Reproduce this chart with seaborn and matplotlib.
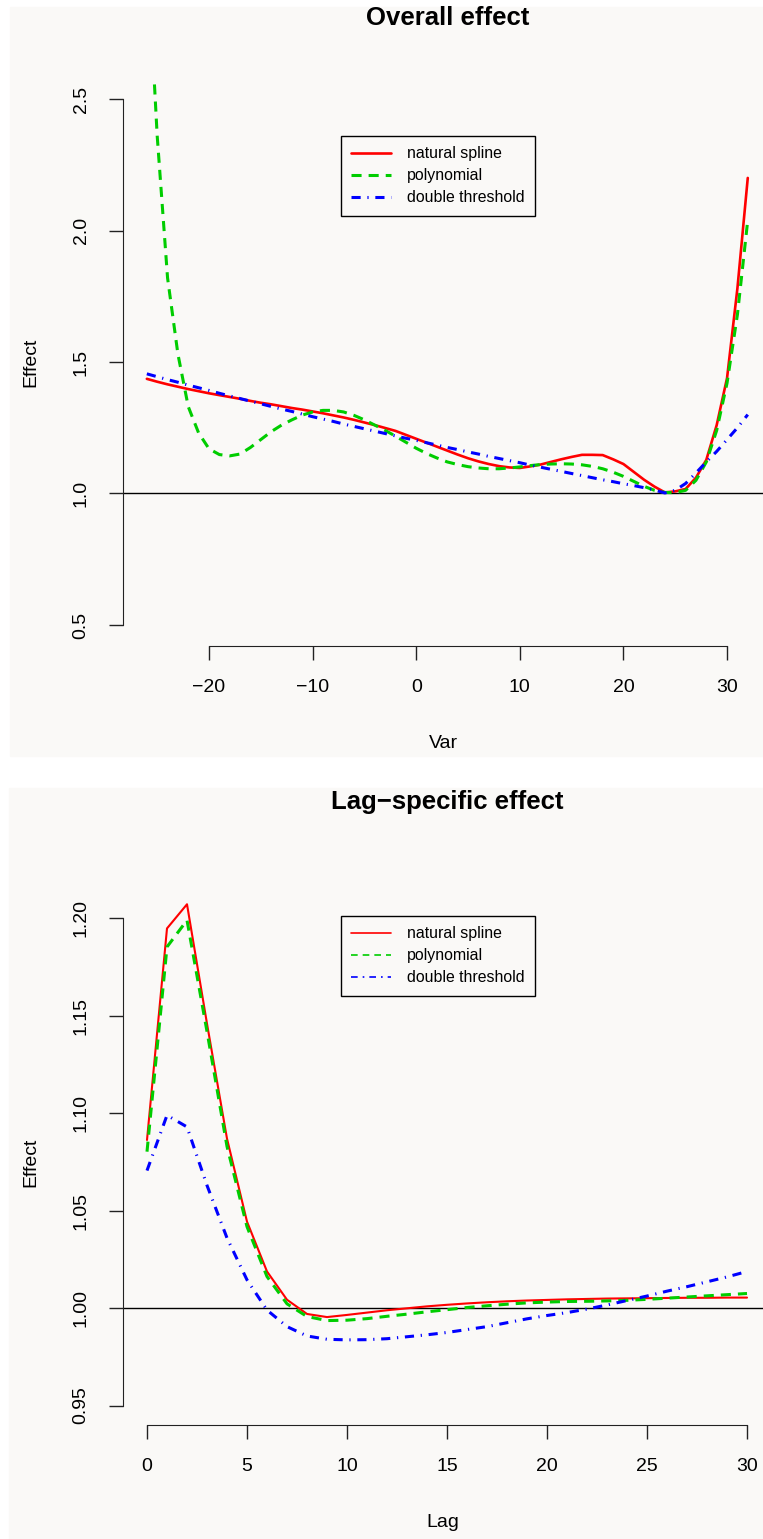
import numpy as np
import pandas as pd
import matplotlib
matplotlib.use("Agg")
import matplotlib.pyplot as plt
from matplotlib.lines import Line2D
from matplotlib.patches import Rectangle
import seaborn as sns

# === DATA: overall effect ===
var = list(range(-26, 33))
overall_ns = [1.436, 1.425, 1.415, 1.406, 1.397, 1.389, 1.381, 1.374, 1.367, 1.360,
              1.352, 1.345, 1.339, 1.332, 1.325, 1.319, 1.312, 1.305, 1.297, 1.289,
              1.280, 1.270, 1.260, 1.249, 1.238, 1.223, 1.208, 1.193, 1.178, 1.163,
              1.148, 1.134, 1.122, 1.112, 1.104, 1.099, 1.097, 1.103, 1.110, 1.120,
              1.130, 1.139, 1.147, 1.147, 1.146, 1.130, 1.112, 1.082, 1.052, 1.026,
              1.004, 1.008, 1.017, 1.060, 1.128, 1.260, 1.439, 1.780, 2.200]
overall_poly = [3.100, 2.360, 1.820, 1.530, 1.330, 1.230, 1.170, 1.148, 1.143, 1.150,
                1.175, 1.205, 1.235, 1.260, 1.280, 1.298, 1.310, 1.316, 1.316, 1.310,
                1.297, 1.280, 1.260, 1.240, 1.218, 1.195, 1.172, 1.152, 1.135, 1.120,
                1.110, 1.102, 1.097, 1.094, 1.094, 1.097, 1.101, 1.106, 1.110, 1.112,
                1.113, 1.112, 1.109, 1.103, 1.094, 1.081, 1.065, 1.046, 1.027, 1.012,
                1.004, 1.003, 1.012, 1.050, 1.120, 1.240, 1.420, 1.680, 2.040]
overall_thr = [1.455, 1.444, 1.433, 1.423, 1.412, 1.402, 1.392, 1.381, 1.371, 1.361,
               1.351, 1.341, 1.331, 1.321, 1.312, 1.302, 1.292, 1.283, 1.274, 1.264,
               1.255, 1.246, 1.237, 1.228, 1.219, 1.210, 1.202, 1.193, 1.184, 1.175,
               1.167, 1.158, 1.150, 1.141, 1.133, 1.125, 1.117, 1.108, 1.100, 1.092,
               1.084, 1.076, 1.068, 1.060, 1.052, 1.045, 1.037, 1.030, 1.022, 1.013,
               1.002, 1.012, 1.038, 1.078, 1.120, 1.160, 1.205, 1.250, 1.300]

# === DATA: lag-specific effect ===
lag = list(range(0, 31))
lag_ns = [1.0863, 1.1949, 1.2073, 1.1460, 1.0870, 1.0444, 1.0188, 1.0043, 0.9970, 0.9954,
          0.9965, 0.9977, 0.9989, 0.9999, 1.0009, 1.0017, 1.0024, 1.0030, 1.0035, 1.0039,
          1.0042, 1.0045, 1.0047, 1.0049, 1.0050, 1.0051, 1.0052, 1.0053, 1.0053, 1.0054,
          1.0054]
lag_poly = [1.0803, 1.1854, 1.1991, 1.1420, 1.0830, 1.0418, 1.0162, 1.0022, 0.9957, 0.9936,
            0.9938, 0.9946, 0.9958, 0.9969, 0.9981, 0.9992, 1.0003, 1.0012, 1.0020, 1.0027,
            1.0031, 1.0034, 1.0035, 1.0037, 1.0040, 1.0045, 1.0051, 1.0057, 1.0063, 1.0069,
            1.0075]
lag_thr = [1.0706, 1.0990, 1.0930, 1.0630, 1.0360, 1.0145, 0.9990, 0.9905, 0.9857, 0.9840,
           0.9837, 0.9838, 0.9843, 0.9853, 0.9863, 0.9875, 0.9890, 0.9905, 0.9925, 0.9945,
           0.9962, 0.9977, 0.9995, 1.0016, 1.0039, 1.0062, 1.0087, 1.0110, 1.0135, 1.0160,
           1.0188]

labels = ["natural spline", "polynomial", "double threshold"]
colors = ["#ff0000", "#00cd00", "#0000ff"]

sns.set_style("ticks")
plt.rcParams['font.family'] = ['Liberation Sans', 'DejaVu Sans']
plt.rcParams['axes.edgecolor'] = '#222222'
plt.rcParams['text.color'] = 'black'
plt.rcParams['axes.labelcolor'] = 'black'
plt.rcParams['xtick.color'] = 'black'
plt.rcParams['ytick.color'] = 'black'

W, H = 763, 1539
DPI = 100
fig = plt.figure(figsize=(W / DPI, H / DPI), dpi=DPI, facecolor='white')

BG = '#faf9f7'
# panel backgrounds (pixel coords converted to figure fraction)
fig.patches.append(Rectangle((10 / W, 1 - 756 / H), 753 / W, 749 / H,
                             transform=fig.transFigure, color=BG, zorder=-10))
fig.patches.append(Rectangle((9 / W, 0), 754 / W, 1 - 788 / H,
                             transform=fig.transFigure, color=BG, zorder=-10))

ax1 = fig.add_axes([123 / W, 1 - 646 / H, 1 - 123 / W, (646 - 78) / H])
ax2 = fig.add_axes([123 / W, 1 - 1425 / H, 1 - 123 / W, (1425 - 899) / H])

dash_g = (0, (3.3, 2.3))
dash_b = (0, (3.0, 2.2, 0.4, 2.2))

leg_kw = dict(fontsize=11.4, frameon=True, fancybox=False, edgecolor='black',
              facecolor=BG, framealpha=1, handlelength=2.5, handletextpad=1.0,
              borderpad=0.65, labelspacing=0.44, borderaxespad=0,
              bbox_transform=fig.transFigure, loc='upper left')

# --- top panel ---
sns.lineplot(x=var, y=overall_ns, ax=ax1, color=colors[0], lw=1.9, label=labels[0])
sns.lineplot(x=var, y=overall_poly, ax=ax1, color=colors[1], lw=2.2, linestyle=dash_g, label=labels[1])
sns.lineplot(x=var, y=overall_thr, ax=ax1, color=colors[2], lw=2.2, linestyle=dash_b, label=labels[2])
ax1.axhline(1, color='black', lw=1.0, zorder=1)
ax1.set_xlim(-28.3, 33.47)
ax1.set_ylim(0.42, 2.58)
ax1.set_xticks([-20, -10, 0, 10, 20, 30])
ax1.set_yticks([0.5, 1.0, 1.5, 2.0, 2.5])
ax1.spines['bottom'].set_bounds(-20, 30)
ax1.spines['left'].set_bounds(0.5, 2.5)
ax1.set_xlabel("Var", fontsize=14, labelpad=28)
ax1.set_ylabel("Effect", fontsize=14, labelpad=24)
fig.text(447.5 / W, 1 - 18 / H, "Overall effect", ha='center', va='center',
         fontsize=18.5, fontweight='bold')
leg1 = ax1.legend(bbox_to_anchor=(341 / W, 1 - 136 / H), **leg_kw)
leg1.get_frame().set_linewidth(1.0)

# --- bottom panel ---
sns.lineplot(x=lag, y=lag_ns, ax=ax2, color=colors[0], lw=1.5)
sns.lineplot(x=lag, y=lag_poly, ax=ax2, color=colors[1], lw=2.2, linestyle=dash_g)
sns.lineplot(x=lag, y=lag_thr, ax=ax2, color=colors[2], lw=2.2, linestyle=dash_b)
ax2.axhline(1, color='black', lw=1.0, zorder=1)
ax2.set_xlim(-1.2, 30.8)
ax2.set_ylim(0.94, 1.21)
ax2.set_xticks(range(0, 31, 5))
ax2.set_yticks([0.95, 1.00, 1.05, 1.10, 1.15, 1.20])
ax2.set_yticklabels(["0.95", "1.00", "1.05", "1.10", "1.15", "1.20"])
ax2.spines['bottom'].set_bounds(0, 30)
ax2.spines['left'].set_bounds(0.95, 1.20)
ax2.set_xlabel("Lag", fontsize=14, labelpad=28)
ax2.set_ylabel("Effect", fontsize=14, labelpad=24)
fig.text(447.5 / W, 1 - 802 / H, "Lag\u2212specific effect", ha='center', va='center',
         fontsize=18.5, fontweight='bold')
handles2 = [
    Line2D([], [], color=colors[0], lw=1.2),
    Line2D([], [], color=colors[1], lw=1.2, linestyle=(0, (4, 3))),
    Line2D([], [], color=colors[2], lw=1.2, linestyle=(0, (4, 3, 1, 3))),
]
leg2 = ax2.legend(handles2, labels, bbox_to_anchor=(341 / W, 1 - 916 / H), **leg_kw)
leg2.get_frame().set_linewidth(1.0)

for ax in (ax1, ax2):
    ax.set_facecolor('none')
    sns.despine(ax=ax, top=True, right=True)
    ax.tick_params(axis='both', length=10, width=1.0, direction='out',
                   labelsize=14, pad=14, color='#222222')
    for lbl in ax.get_yticklabels():
        lbl.set_rotation(90)
        lbl.set_va('center')

fig.savefig("out.png", dpi=DPI, facecolor='white')
